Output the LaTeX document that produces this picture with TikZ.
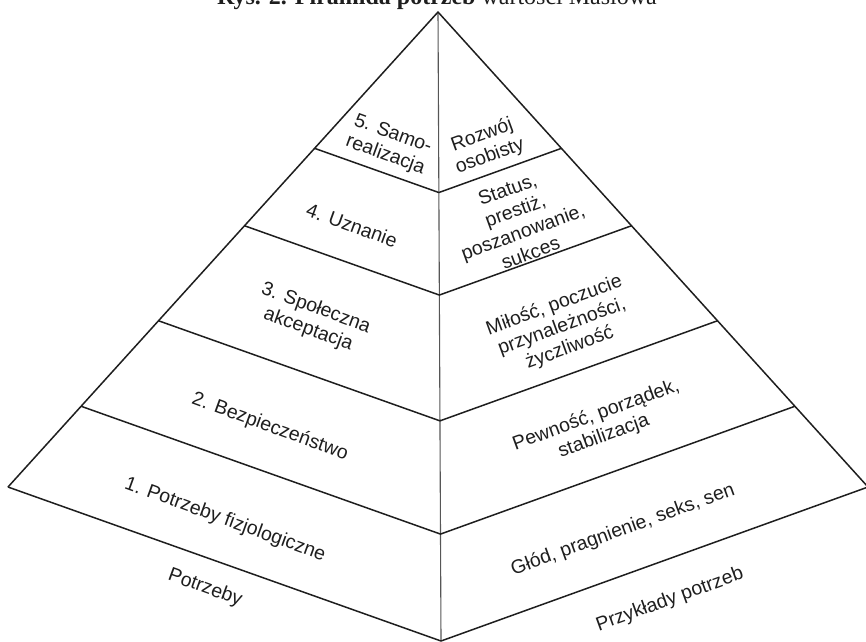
\documentclass[tikz,border=0pt]{standalone}
\usepackage{fontspec}
\setmainfont{Liberation Sans}
\newfontfamily\titlefont{Liberation Serif}
\usetikzlibrary{calc}
\definecolor{ink}{HTML}{1E1E1E}
\tikzset{
  edge/.style={draw=ink, line width=1.5pt, line join=round},
  axis/.style={draw=ink!75, line width=1.1pt},
  lbl/.style={text=ink, align=center, inner sep=0pt,
    font=\fontsize{19.5}{22.5}\selectfont},
  lleft/.style={lbl, rotate=-20},
  lright/.style={lbl, rotate=20},
}
\begin{document}
\begin{tikzpicture}[x=1pt, y=-1pt]
\useasboundingbox (0,0) rectangle (866,641);
% main corners
\coordinate (apex) at (438,12);
\coordinate (cornerL) at (8,487);
\coordinate (cornerF) at (441,641);
\coordinate (cornerR) at (868,487);
% level boundaries
\foreach \n/\t in {1/0.287, 2/0.45, 3/0.65, 4/0.83}{
  \coordinate (bl\n) at ($(apex)!\t!(cornerL)$);
  \coordinate (bc\n) at ($(apex)!\t!(cornerF)$);
  \coordinate (br\n) at ($(apex)!\t!(cornerR)$);
}
% title (cut at the top)
\node[anchor=base, inner sep=0pt, text=ink] (title) at (437,4.5)
  {\titlefont\fontsize{24}{28}\selectfont\textbf{Rys. 2. Piramida potrzeb} wartości Maslowa};
% outline
\draw[axis] (apex) -- (cornerF);
\draw[edge] (cornerL) -- (apex) -- (cornerR);
\draw[edge] (cornerL) -- (cornerF) -- (cornerR);
\foreach \n in {1,2,3,4}{
  \draw[edge] (bl\n) -- (bc\n) -- (br\n);
}
% left labels
\node[lleft] (n5) at (389,145) {5. Samo-\\realizacja};
\node[lleft] (n4) at (352,225) {4. Uznanie};
\node[lleft] (n3) at (312,319) {3. Społeczna\\akceptacja};
\node[lleft] (n2) at (270,427) {2. Bezpieczeństwo};
\node[lleft] (n1) at (225,520) {1. Potrzeby fizjologiczne};
\node[lleft] (np) at (205,588) {Potrzeby};
% right labels
\node[lright] (e5) at (486,146) {Rozwój\\osobisty};
\node[lright] (e4) at (519,221) {Status,\\prestiż,\\poszanowanie,\\sukces};
\node[lright] (e3) at (562,327) {Miłość, poczucie\\przynależności,\\życzliwość};
\node[lright] (e2) at (600,426) {Pewność, porządek,\\stabilizacja};
\node[lright] (e1) at (623,530) {Głód, pragnienie, seks, sen};
\node[lright] (ep) at (670,600) {Przykłady potrzeb};
\end{tikzpicture}
\end{document}
